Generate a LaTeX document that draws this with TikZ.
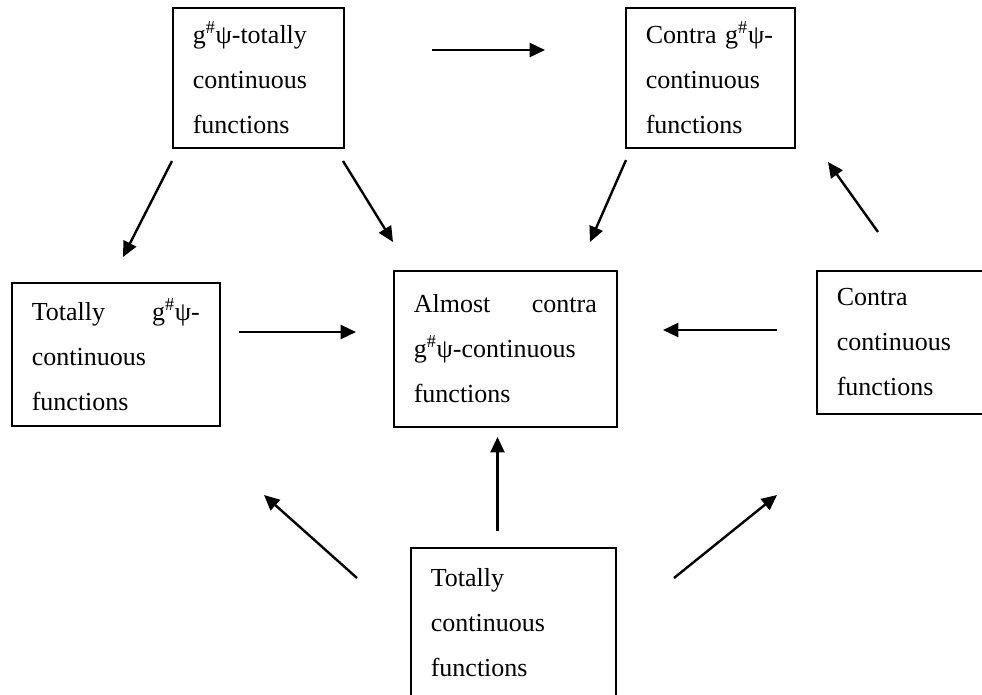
\documentclass[tikz,border=0pt]{standalone}
\usepackage{fontspec}
\setmainfont{Liberation Serif}
\usetikzlibrary{arrows.meta}

\begin{document}
\begin{tikzpicture}[
  x=0.75pt, y=-0.75pt,
  box/.style={rectangle, draw, line width=1.2pt, anchor=north west, inner xsep=15pt, inner ysep=0pt, align=left, font=\fontsize{19.5}{33.8}\selectfont},
  arrow/.style={-{Triangle[length=11.5pt, width=10.5pt]}, line width=1.8pt}
]
\useasboundingbox (0,0) rectangle (982,694);
\clip (0,0) rectangle (982,694);

% Top row
\node[box, text width=98.25pt, minimum height=105pt] (gtc) at (172,7) {g\textsuperscript{\#}ψ-totally\\continuous\\functions};
\node[box, text width=96.75pt, minimum height=105pt] (cgc) at (625,7) {Contra~g\textsuperscript{\#}ψ-\\continuous\\functions};

% Middle row
\node[box, text width=126pt, minimum height=107.25pt] (tgc) at (11,282) {Totally\hfill g\textsuperscript{\#}ψ-\hspace*{4.5pt}\\continuous\\functions};
\node[box, text width=137.25pt, minimum height=117pt] (acgc) at (393,270) {Almost\hfill contra\hspace*{2pt}\\g\textsuperscript{\#}ψ-continuous\\functions};
\node[box, text width=99pt, minimum height=107.25pt] (cc) at (816,270) {Contra\\continuous\\functions};

% Bottom
\node[box, text width=123.75pt, minimum height=112.5pt] (tc) at (410,547) {Totally\\continuous\\functions};

% Arrow ends
\coordinate (gtc-cgc-s) at (432,50);  \coordinate (gtc-cgc-e) at (545,50);
\coordinate (gtc-tgc-s) at (172,161); \coordinate (gtc-tgc-e) at (123,257);
\coordinate (gtc-acgc-s) at (343,161); \coordinate (gtc-acgc-e) at (393,242);
\coordinate (cgc-acgc-s) at (626,160); \coordinate (cgc-acgc-e) at (590,242);
\coordinate (cc-cgc-s) at (878,232); \coordinate (cc-cgc-e) at (828,162);
\coordinate (tgc-acgc-s) at (239,332); \coordinate (tgc-acgc-e) at (356,332);
\coordinate (cc-acgc-s) at (777,330); \coordinate (cc-acgc-e) at (663,330);
\coordinate (tc-acgc-s) at (497.5,531); \coordinate (tc-acgc-e) at (497.5,437);
\coordinate (tc-tgc-s) at (357,578); \coordinate (tc-tgc-e) at (264,495);
\coordinate (tc-cc-s) at (674,578); \coordinate (tc-cc-e) at (777,495);

% Arrows
\draw[arrow] (gtc-cgc-s) -- (gtc-cgc-e);
\draw[arrow] (gtc-tgc-s) -- (gtc-tgc-e);
\draw[arrow] (gtc-acgc-s) -- (gtc-acgc-e);
\draw[arrow] (cgc-acgc-s) -- (cgc-acgc-e);
\draw[arrow] (cc-cgc-s) -- (cc-cgc-e);
\draw[arrow] (tgc-acgc-s) -- (tgc-acgc-e);
\draw[arrow] (cc-acgc-s) -- (cc-acgc-e);
\draw[arrow] (tc-acgc-s) -- (tc-acgc-e);
\draw[arrow] (tc-tgc-s) -- (tc-tgc-e);
\draw[arrow] (tc-cc-s) -- (tc-cc-e);

\end{tikzpicture}
\end{document}
